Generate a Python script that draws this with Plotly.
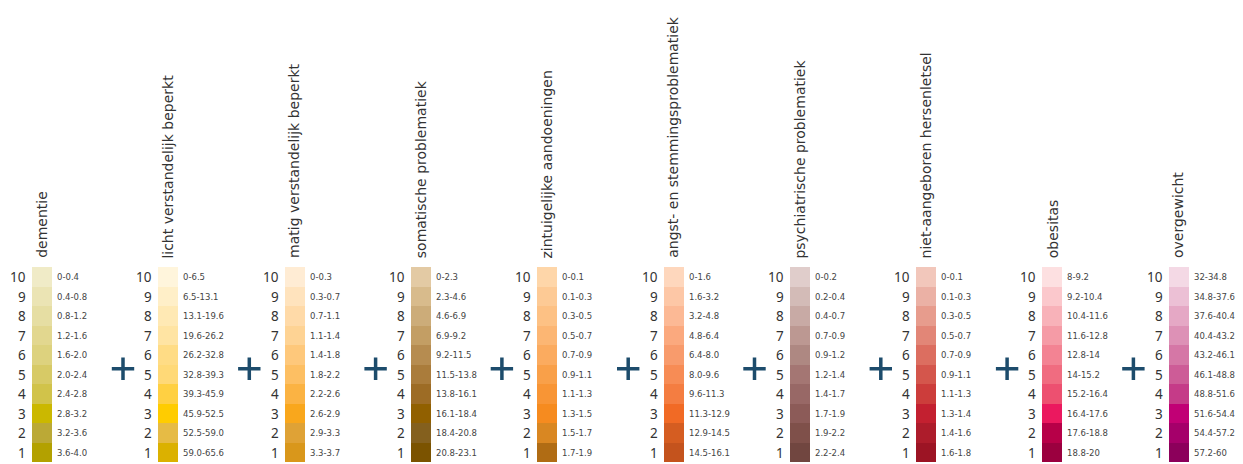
import plotly.graph_objects as go

# -------------------------------------------------
# Data: one legend column per condition
# -------------------------------------------------
titles = [
    "dementie",
    "licht verstandelijk beperkt",
    "matig verstandelijk beperkt",
    "somatische problematiek",
    "zintuigelijke aandoeningen",
    "angst- en stemmingsproblematiek",
    "psychiatrische problematiek",
    "niet-aangeboren hersenletsel",
    "obesitas",
    "overgewicht",
]

ranks = [10, 9, 8, 7, 6, 5, 4, 3, 2, 1]

# range labels, listed from rank 10 (top) to rank 1 (bottom)
ranges_dementie = ["0-0.4", "0.4-0.8", "0.8-1.2", "1.2-1.6", "1.6-2.0", "2.0-2.4", "2.4-2.8", "2.8-3.2", "3.2-3.6", "3.6-4.0"]
ranges_licht = ["0-6.5", "6.5-13.1", "13.1-19.6", "19.6-26.2", "26.2-32.8", "32.8-39.3", "39.3-45.9", "45.9-52.5", "52.5-59.0", "59.0-65.6"]
ranges_matig = ["0-0.3", "0.3-0.7", "0.7-1.1", "1.1-1.4", "1.4-1.8", "1.8-2.2", "2.2-2.6", "2.6-2.9", "2.9-3.3", "3.3-3.7"]
ranges_somatisch = ["0-2.3", "2.3-4.6", "4.6-6.9", "6.9-9.2", "9.2-11.5", "11.5-13.8", "13.8-16.1", "16.1-18.4", "18.4-20.8", "20.8-23.1"]
ranges_zintuig = ["0-0.1", "0.1-0.3", "0.3-0.5", "0.5-0.7", "0.7-0.9", "0.9-1.1", "1.1-1.3", "1.3-1.5", "1.5-1.7", "1.7-1.9"]
ranges_angst = ["0-1.6", "1.6-3.2", "3.2-4.8", "4.8-6.4", "6.4-8.0", "8.0-9.6", "9.6-11.3", "11.3-12.9", "12.9-14.5", "14.5-16.1"]
ranges_psych = ["0-0.2", "0.2-0.4", "0.4-0.7", "0.7-0.9", "0.9-1.2", "1.2-1.4", "1.4-1.7", "1.7-1.9", "1.9-2.2", "2.2-2.4"]
ranges_nah = ["0-0.1", "0.1-0.3", "0.3-0.5", "0.5-0.7", "0.7-0.9", "0.9-1.1", "1.1-1.3", "1.3-1.4", "1.4-1.6", "1.6-1.8"]
ranges_obesitas = ["8-9.2", "9.2-10.4", "10.4-11.6", "11.6-12.8", "12.8-14", "14-15.2", "15.2-16.4", "16.4-17.6", "17.6-18.8", "18.8-20"]
ranges_overgewicht = ["32-34.8", "34.8-37.6", "37.6-40.4", "40.4-43.2", "43.2-46.1", "46.1-48.8", "48.8-51.6", "51.6-54.4", "54.4-57.2", "57.2-60"]

# colours from rank 10 (light) to rank 1 (dark)
colors_dementie = ["#f0ebc7", "#ebe4b4", "#e6dea3", "#e2d78f", "#ddd27e", "#d7ca66", "#d1c34a", "#cbb800", "#bba936", "#b3a100"]
colors_licht = ["#fff5dc", "#ffefc8", "#ffe9b4", "#ffe4a3", "#ffdc85", "#ffd977", "#ffd042", "#ffcc00", "#e6bb45", "#dbb100"]
colors_matig = ["#ffecd4", "#ffe3bd", "#ffdaa8", "#fed394", "#fec87b", "#fdbf63", "#fbb343", "#f9a71c", "#dfa236", "#d9971b"]
colors_somatisch = ["#e3caa4", "#d8bb8c", "#ccac79", "#c39e64", "#b68c50", "#aa7c3b", "#9d6c25", "#916000", "#84601e", "#7b5300"]
colors_zintuig = ["#fed6a9", "#fdca95", "#fdc184", "#fcb673", "#fbab5f", "#f9a049", "#f89535", "#f68b1f", "#d98722", "#b06c14"]
colors_angst = ["#fed7bd", "#fdc7a6", "#fcb995", "#fba97e", "#f89b6c", "#f78c55", "#f47d41", "#f16a25", "#d55d21", "#c4531d"]
colors_psych = ["#e0cdcb", "#d3bbb7", "#c8aaa5", "#bc9892", "#ae8882", "#a47673", "#986866", "#8c5b58", "#7f504a", "#714640"]
colors_nah = ["#f2c7bb", "#ebb1a5", "#e79c8d", "#e28677", "#dc6e60", "#d4564c", "#cc3d3b", "#c32030", "#ad1c2b", "#9c1424"]
colors_obesitas = ["#fde0e1", "#fbc8cc", "#f8b2b9", "#f59ba6", "#f38393", "#f06c80", "#ed5070", "#eb185f", "#b70048", "#9b003f"]
colors_overgewicht = ["#f4d9e5", "#ecc0d5", "#e5a8c5", "#dd91b6", "#d577a6", "#cd5c97", "#c53b88", "#c10075", "#a5006a", "#8c005b"]

all_ranges = [ranges_dementie, ranges_licht, ranges_matig, ranges_somatisch, ranges_zintuig,
              ranges_angst, ranges_psych, ranges_nah, ranges_obesitas, ranges_overgewicht]
all_colors = [colors_dementie, colors_licht, colors_matig, colors_somatisch, colors_zintuig,
              colors_angst, colors_psych, colors_nah, colors_obesitas, colors_overgewicht]

# -------------------------------------------------
# Layout constants (x axis in pixels, y axis in rank units)
# -------------------------------------------------
X0 = 42.0
STEP = 126.3
SW = 20
TXT = "#333333"
PLUS = "#1d4c6c"

fig = go.Figure()
annotations = []

for i, title in enumerate(titles):
    cx = X0 + STEP * i
    fig.add_trace(go.Bar(
        x=[cx] * len(ranks),
        y=[1] * len(ranks),
        base=[r - 1 for r in ranks],
        width=SW,
        marker=dict(color=all_colors[i], line=dict(width=0)),
        hoverinfo="skip",
        showlegend=False,
    ))
    for r, lab in zip(ranks, all_ranges[i]):
        annotations.append(dict(
            x=cx + SW / 2, y=r - 0.5, text=lab, showarrow=False,
            xanchor="left", yanchor="middle", xshift=3,
            font=dict(family="DejaVu Sans", size=8.5, color="#444444"),
        ))
        annotations.append(dict(
            x=cx - SW / 2, y=r - 0.5, text=str(r), showarrow=False,
            xanchor="right", yanchor="middle", xshift=-4,
            font=dict(family="Noto Sans", size=13.5, color=TXT),
        ))
    annotations.append(dict(
        x=cx, y=10, text=title, showarrow=False, textangle=-90,
        xanchor="center", yanchor="bottom", yshift=7,
        font=dict(family="DejaVu Sans", size=14, color=TXT),
    ))

# plus signs between the columns
plus_x = [X0 + STEP * i + 81 for i in range(len(titles) - 1)]
fig.add_trace(go.Scatter(
    x=plus_x, y=[4.8] * len(plus_x), mode="markers",
    marker=dict(symbol="cross-thin", size=16, line=dict(width=3.5, color=PLUS)),
    hoverinfo="skip", showlegend=False,
))

fig.update_layout(
    width=1243, height=464,
    margin=dict(l=0, r=0, t=0, b=0),
    paper_bgcolor="white", plot_bgcolor="white",
    barmode="overlay", bargap=0,
    annotations=annotations,
    xaxis=dict(range=[0, 1243], visible=False, fixedrange=True),
    yaxis=dict(range=[-0.087, 23.71], visible=False, fixedrange=True),
)

fig.write_html("out.html", config={"displayModeBar": False},
               post_script="document.body.style.margin='0';")
